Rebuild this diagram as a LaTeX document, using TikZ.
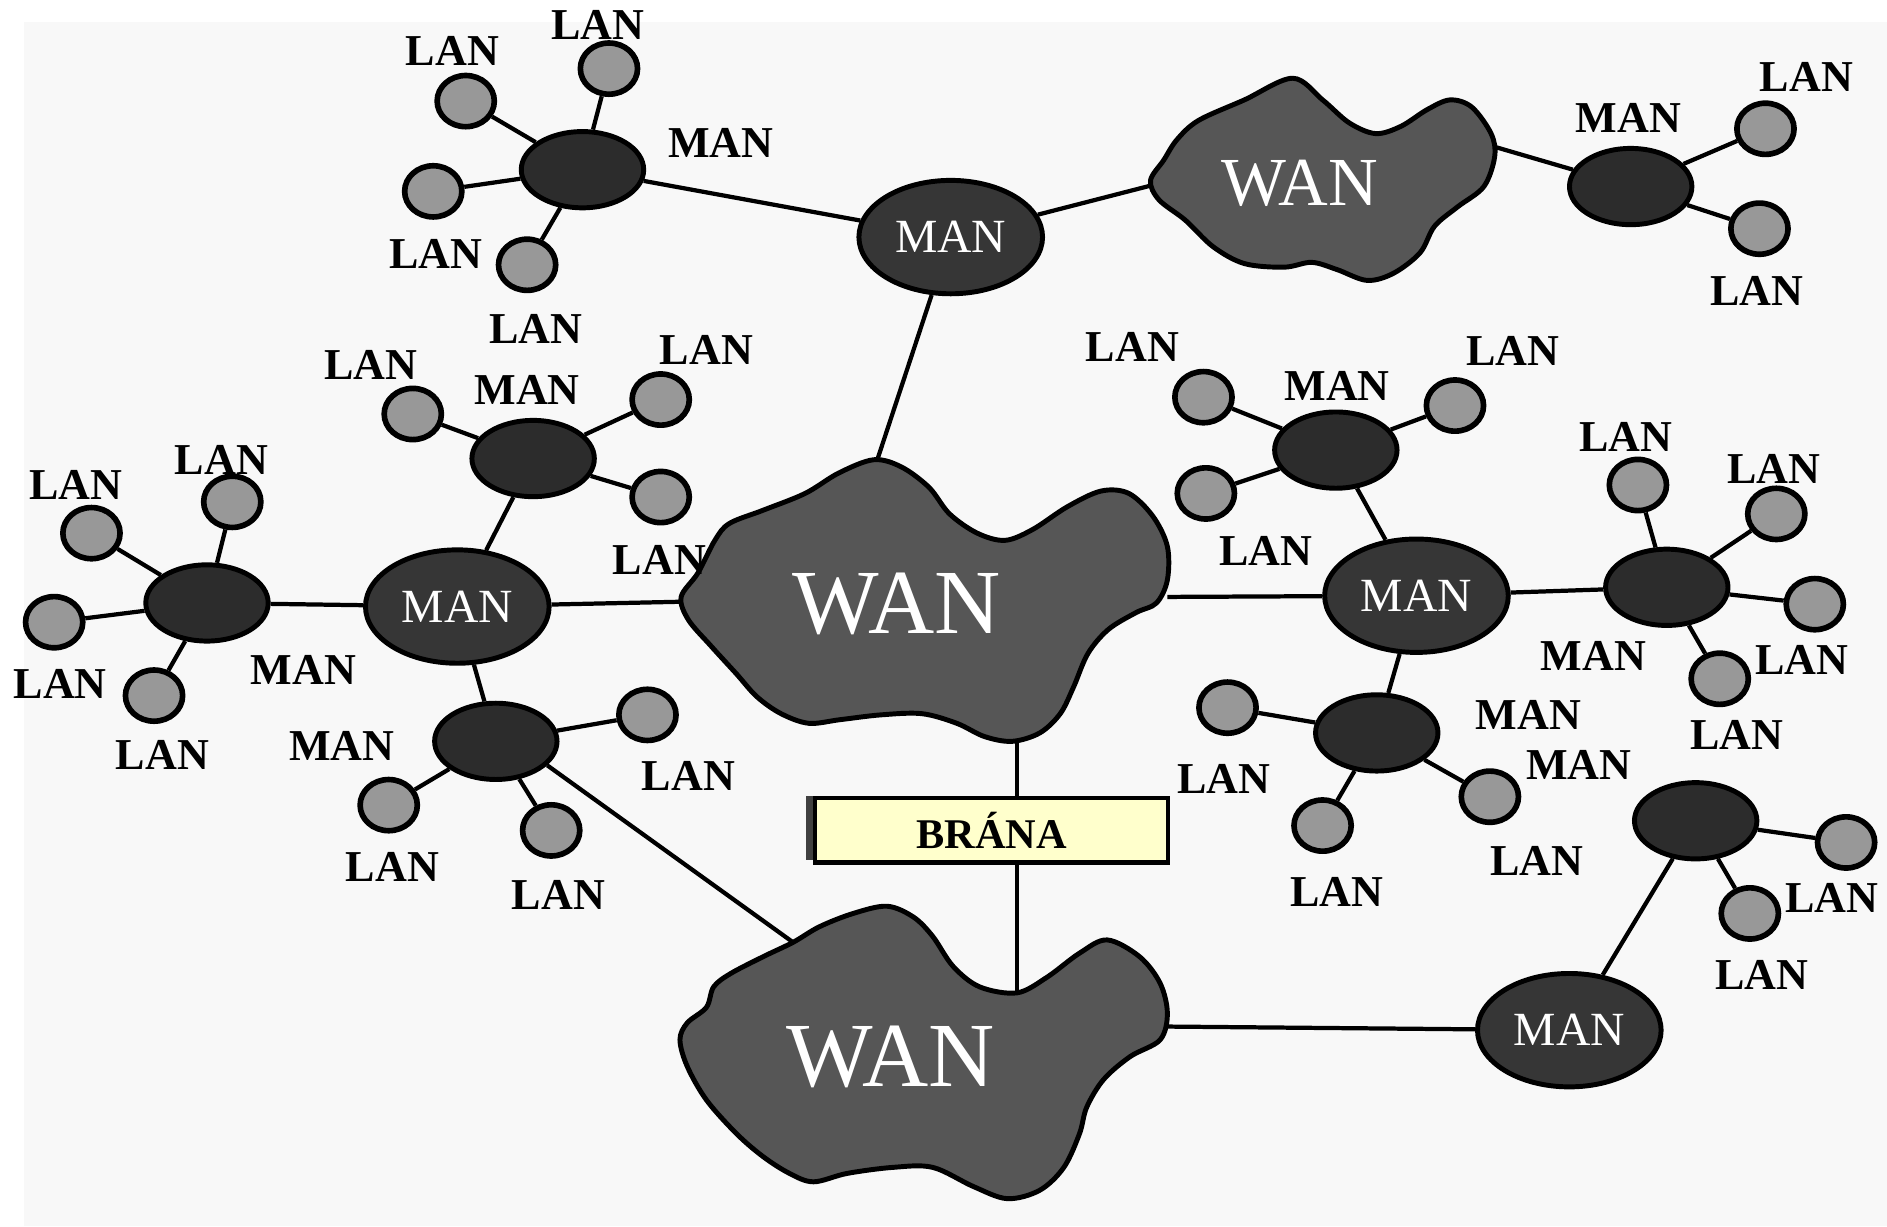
\documentclass[tikz,border=0pt]{standalone}
\usepackage{fontspec}
\setmainfont{Liberation Serif}
\usetikzlibrary{shapes.geometric}
\definecolor{lanfill}{HTML}{989898}
\definecolor{hubfill}{HTML}{2C2C2C}
\definecolor{manfill}{HTML}{363636}
\definecolor{wanfill}{HTML}{565656}
\definecolor{gatefill}{HTML}{FFFFCC}
\definecolor{paper}{HTML}{F8F8F8}
\begin{document}
\begin{tikzpicture}[x=0.012cm,y=-0.012cm,
  lan/.style={ellipse,draw=black,line width=1.6pt,fill=lanfill,minimum width=0.57cm,minimum height=0.51cm,inner sep=0pt},
  hub/.style={ellipse,draw=black,line width=1.4pt,fill=hubfill,minimum width=1.22cm,minimum height=0.76cm,inner sep=0pt},
  man/.style={ellipse,draw=black,line width=1.4pt,fill=manfill,minimum width=1.83cm,minimum height=1.13cm,inner sep=0pt,text=white,font=\fontsize{13.5}{14}\selectfont},
  lbl/.style={inner sep=0pt,font=\bfseries\fontsize{12.5}{13}\selectfont},
  link/.style={line width=1.2pt},
  wan/.style={draw=black,line width=1.4pt,fill=wanfill},
  wantext/.style={text=white,inner sep=0pt},
  gate/.style={draw=black,line width=1.2pt,fill=gatefill,minimum width=3.52cm,minimum height=0.64cm,inner sep=0pt,font=\bfseries\fontsize{12}{13}\selectfont},
]
% page
\fill[white] (0,0) rectangle (1568,1019);
\fill[paper] (20,18) rectangle (1568,1019);
\useasboundingbox (0,0) rectangle (1568,1019);

% WAN clouds
\draw[wan] plot[smooth cycle,tension=0.55] coordinates {
  (566,496) (580,476) (594,449) (606,435) (634,424) (669,410) (697,393) (726,382)
  (749,388) (772,405) (789,427) (812,443) (835,449) (858,440) (887,421) (915,408)
  (938,410) (958,429) (970,454) (970,482) (961,501) (944,509) (921,523) (904,543)
  (892,571) (881,593) (864,609) (841,616) (818,612) (795,601) (766,593) (732,594)
  (698,598) (672,601) (649,593) (629,579) (612,560) (591,537) (572,515)};
\draw[wan] plot[smooth cycle,tension=0.55] coordinates {
  (956,150) (967,133) (978,116) (996,100) (1034,83) (1074,65) (1099,83) (1121,102)
  (1143,111) (1164,105) (1186,91) (1205,83) (1223,89) (1239,111) (1242,130)
  (1233,155) (1211,172) (1192,188) (1180,210) (1158,227) (1136,233) (1111,224)
  (1090,218) (1067,222) (1034,219) (1008,205) (985,183) (963,166)};
\draw[wan] plot[smooth cycle,tension=0.55] coordinates {
  (659,783) (681,770) (709,759) (737,753) (759,762) (775,778) (792,803) (814,820)
  (845,825) (870,812) (897,792) (920,781) (947,795) (964,817) (970,842) (964,864)
  (939,878) (917,897) (903,920) (897,942) (884,970) (864,989) (837,996) (809,986)
  (775,970) (742,970) (704,975) (676,982) (656,975) (634,961) (612,942) (587,914)
  (571,886) (565,864) (571,850) (587,837) (593,820) (607,809) (634,795)};
\node[wantext,font=\fontsize{26}{28}\selectfont] (w1t) at (745,502) {WAN};
\node[wantext,font=\fontsize{19.5}{21}\selectfont] (w2t) at (1080,152) {WAN};
\node[wantext,font=\fontsize{26}{28}\selectfont] (w3t) at (740,878) {WAN};

% attachment points on the cloud outlines
\coordinate (w1n) at (729,382);
\coordinate (w1w) at (566,500);
\coordinate (w1e) at (970,496);
\coordinate (w1s) at (845,616);
\coordinate (w2w) at (957,154);
\coordinate (w2e) at (1242,122);
\coordinate (w3nw) at (659,783);
\coordinate (w3n) at (845,825);
\coordinate (w3e) at (970,853);

% MAN nodes with captions
\node[man] (TM) at (790,197) {MAN};
\node[man] (LM) at (380,504) {MAN};
\node[man] (RM) at (1177,495) {MAN};
\node[man] (BM) at (1304,856) {MAN};

% hub nodes
\node[hub] (TL) at (484,141) {};
\node[hub] (TR) at (1355,155) {};
\node[hub] (UL) at (443,381) {};
\node[hub] (FL) at (172,501) {};
\node[hub] (LL) at (412,616) {};
\node[hub] (RU) at (1110,374) {};
\node[hub] (RR) at (1385,488) {};
\node[hub] (RD) at (1144,609) {};
\node[hub] (BR) at (1409,682) {};

% LAN nodes
\node[lan] (a1) at (387,84) {};
\node[lan] (a2) at (506,57) {};
\node[lan] (a3) at (360,159) {};
\node[lan] (a4) at (438,220) {};
\node[lan] (b1) at (1467,107) {};
\node[lan] (b2) at (1462,190) {};
\node[lan] (c1) at (343,344) {};
\node[lan] (c2) at (549,332) {};
\node[lan] (c3) at (549,413) {};
\node[lan] (d1) at (76,443) {};
\node[lan] (d2) at (193,417) {};
\node[lan] (d3) at (45,517) {};
\node[lan] (d4) at (128,578) {};
\node[lan] (e1) at (538,594) {};
\node[lan] (e2) at (323,669) {};
\node[lan] (e3) at (458,690) {};
\node[lan] (f1) at (1000,330) {};
\node[lan] (f2) at (1209,337) {};
\node[lan] (f3) at (1002,410) {};
\node[lan] (g1) at (1361,403) {};
\node[lan] (g2) at (1476,427) {};
\node[lan] (g3) at (1508,502) {};
\node[lan] (g4) at (1429,564) {};
\node[lan] (h1) at (1020,588) {};
\node[lan] (h2) at (1099,686) {};
\node[lan] (h3) at (1238,662) {};
\node[lan] (k1) at (1534,700) {};
\node[lan] (k2) at (1454,759) {};

% hub to LAN links
\foreach \h/\l in {TL/a1,TL/a2,TL/a3,TL/a4,TR/b1,TR/b2,UL/c1,UL/c2,UL/c3,
  FL/d1,FL/d2,FL/d3,FL/d4,LL/e1,LL/e2,LL/e3,RU/f1,RU/f2,RU/f3,
  RR/g1,RR/g2,RR/g3,RR/g4,RD/h1,RD/h2,RD/h3,BR/k1,BR/k2}
  \draw[link] (\h) -- (\l);

% backbone links
\draw[link] (TL) -- (TM);
\draw[link] (TM) -- (w2w);
\draw[link] (TM) -- (w1n);
\draw[link] (w2e) -- (TR);
\draw[link] (FL) -- (LM);
\draw[link] (LM) -- (w1w);
\draw[link] (LM) -- (UL);
\draw[link] (LM) -- (LL);
\draw[link] (LL.-25) -- (w3nw);
\draw[link] (w1e) -- (RM);
\draw[link] (RM) -- (RU);
\draw[link] (RM) -- (RR);
\draw[link] (RM) -- (RD);
\draw[link] (w3e) -- (BM);
\draw[link] (BM) -- (BR);
\draw[link] (w1s) -- (w3n);

% gateway box with its offset shadow
\fill[black!75] (670,661) rectangle (964,715);
\node[gate] (gw) at (824,690) {BRÁNA};

% captions
\foreach \x/\y [count=\i] in {376/42,497/21,362/211,445/273,308/303,587/291,548/465,
  63/403,184/382,50/568,135/627,326/720,464/744,572/645,1501/64,1460/242,
  941/288,1257/292,1052/458,1351/363,1474/390,1497/548,1443/611,1017/647,
  1111/741,1277/715,1522/746,1464/810}
  \node[lbl] (lanlbl\i) at (\x,\y) {LAN};
\foreach \x/\y [count=\i] in {599/119,438/324,252/557,284/620,1353/98,1111/321,
  1324/545,1270/594,1312/636}
  \node[lbl] (manlbl\i) at (\x,\y) {MAN};
\end{tikzpicture}
\end{document}
